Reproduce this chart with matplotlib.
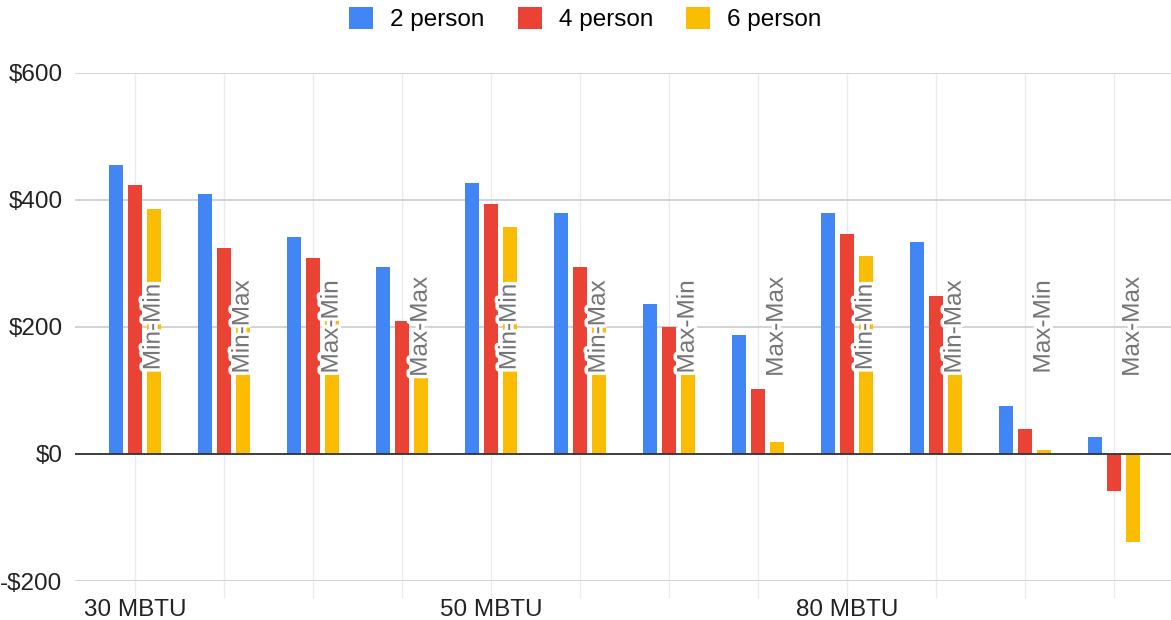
import matplotlib
matplotlib.use("Agg")
import matplotlib.pyplot as plt
import matplotlib.patheffects as pe
import numpy as np
from matplotlib.ticker import FuncFormatter

# heater size x (fuel cost, rate) scenario
sizes = ["30 MBTU", "50 MBTU", "80 MBTU"]
scenarios = ["Min-Min", "Min-Max", "Max-Min", "Max-Max"]

# yearly savings per household size
person_2 = [455, 409, 341, 295, 426, 380, 236, 187, 380, 334, 76, 27]
person_4 = [423, 324, 308, 209, 393, 295, 200, 102, 347, 249, 40, -58]
person_6 = [386, 240, 270, 124, 357, 211, 164, 19, 311, 165, 7, -139]

series_names = ["2 person", "4 person", "6 person"]
colors = ["#4285F4", "#EA4335", "#FBBC04"]


def money(v, pos):
    if v < 0:
        return "-${:,.0f}".format(-v)
    return "${:,.0f}".format(v)


def main():
    plt.rcParams['font.family'] = ['Liberation Sans', 'DejaVu Sans']
    fs = 17.5

    fig = plt.figure(figsize=(11.71, 6.20), dpi=100)
    ax = fig.add_axes([0.064, 0.0629, 0.936, 0.8194])

    n = len(person_2)
    x = np.arange(n)
    width = 0.157
    step = 0.21
    data = [person_2, person_4, person_6]
    for i, (vals, name, col) in enumerate(zip(data, series_names, colors)):
        ax.bar(x + (i - 1) * step, vals, width=width, color=col,
               label=name, zorder=2)

    # scenario labels sit over the 6 person bar of every group
    for i in range(n):
        ax.text(x[i] + step, 200, scenarios[i % 4], rotation=90,
                ha='center', va='center', fontsize=fs, color='#757575',
                zorder=4,
                path_effects=[pe.withStroke(linewidth=5, foreground='white')])

    ax.axhline(0, color='#333333', linewidth=1.3, zorder=3)

    ax.set_ylim(-200, 600)
    ax.set_xlim(-0.674, 11.64)
    ax.set_yticks([-200, 0, 200, 400, 600])
    ax.yaxis.set_major_formatter(FuncFormatter(money))

    tick_labels = []
    for i in range(n):
        tick_labels.append(sizes[i // 4] if i % 4 == 0 else "")
    ax.set_xticks(x)
    ax.set_xticklabels(tick_labels)

    ax.grid(axis='y', color='#cccccc', linewidth=1.2)
    ax.grid(axis='x', color='#ebebeb', linewidth=1.0)
    ax.set_axisbelow(True)

    for s in ax.spines.values():
        s.set_visible(False)
    ax.tick_params(axis='y', length=0, pad=9, labelsize=fs, labelcolor='#222222')
    ax.tick_params(axis='x', length=12, width=1.0, color='#ebebeb', pad=1,
                   labelsize=fs, labelcolor='#222222')

    fig.legend(loc='upper center', bbox_to_anchor=(0.5, 1.012), ncol=3,
               frameon=False, fontsize=fs, handlelength=1.0,
               handleheight=1.0, handletextpad=0.7, columnspacing=1.35,
               borderaxespad=0.2)

    fig.savefig("out.png", dpi=100)


if __name__ == "__main__":
    main()
